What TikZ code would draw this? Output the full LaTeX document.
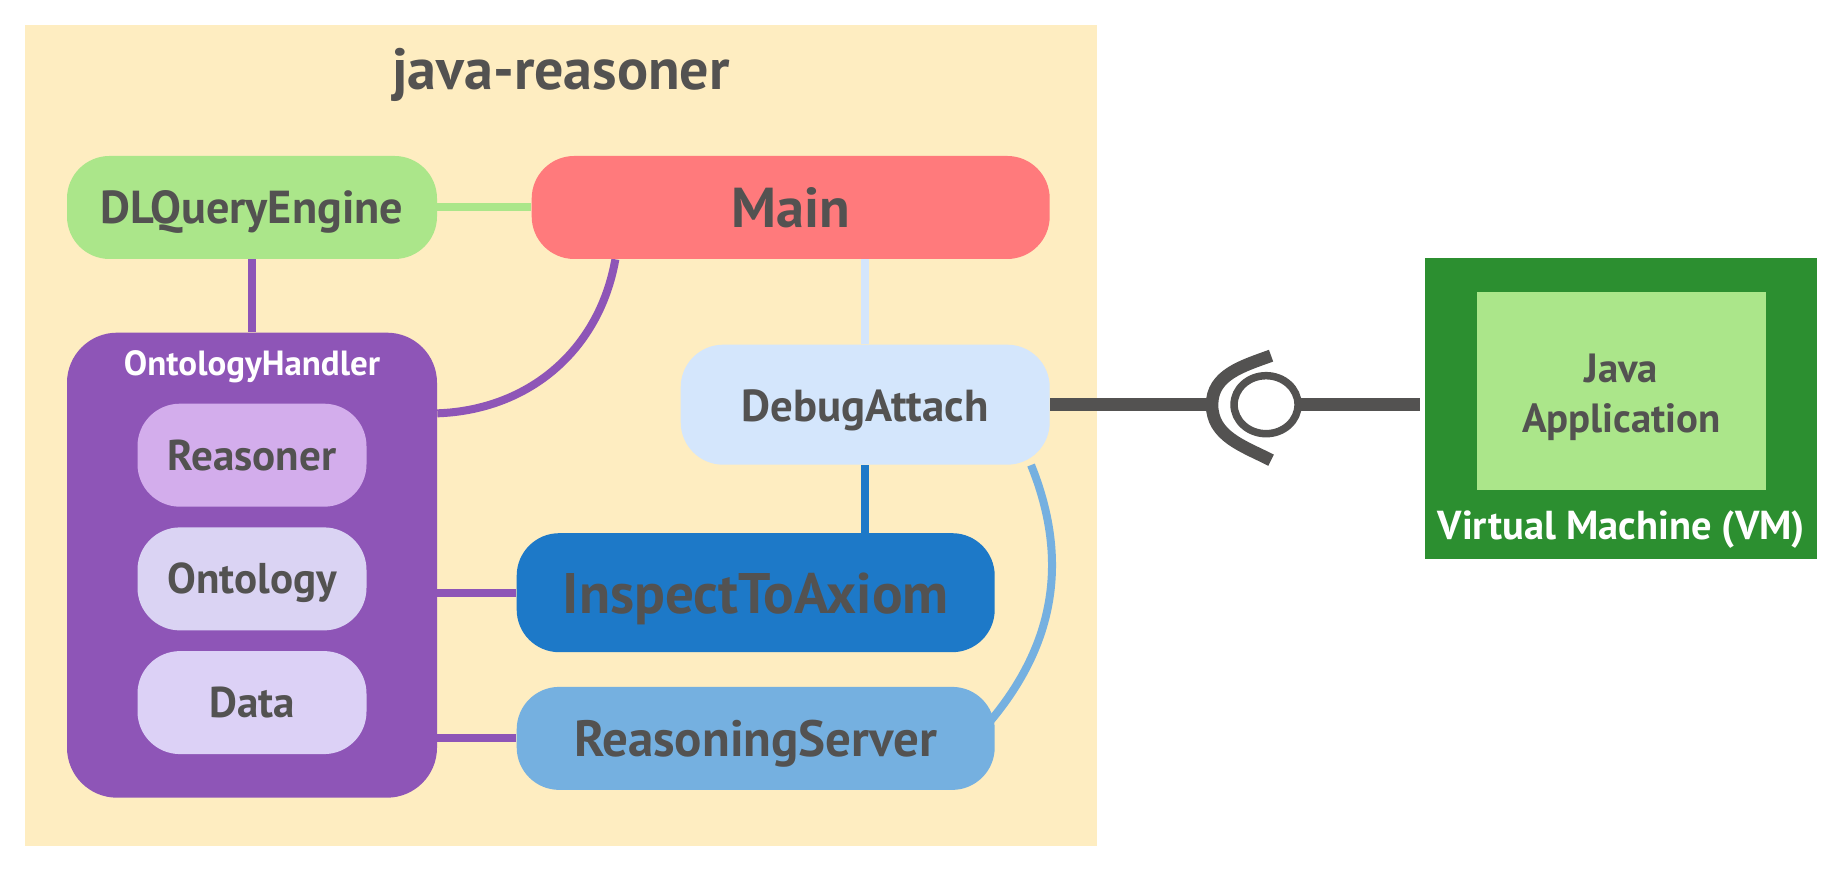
\documentclass[tikz,border=0pt]{standalone}
\usepackage{fontspec}
\setmainfont{PT Sans}
\usetikzlibrary{positioning, backgrounds, shapes.geometric}
\definecolor{inkgrey}{HTML}{535251}
\definecolor{creambg}{HTML}{FEEDC1}
\definecolor{leafgreen}{HTML}{ABE68A}
\definecolor{forestgreen}{HTML}{2C8F30}
\definecolor{mainred}{HTML}{FF7A7C}
\definecolor{handlerpurple}{HTML}{8E55B7}
\definecolor{reasonerlilac}{HTML}{D3ADEC}
\definecolor{ontologylilac}{HTML}{DAD3F3}
\definecolor{datalilac}{HTML}{DCD1F6}
\definecolor{debugblue}{HTML}{D4E6FC}
\definecolor{inspectblue}{HTML}{1D79C8}
\definecolor{serverblue}{HTML}{75B0E0}
\newcommand{\sized}[1]{\fontsize{#1}{#1}\selectfont\bfseries}

\begin{document}
\begin{tikzpicture}[
			block/.style={rectangle, rounded corners=0.85cm, inner sep=0pt, text=inkgrey, text depth=0pt},
			smallblock/.style={block, minimum width=4.58cm, minimum height=2.06cm, font=\sized{24.5pt}, text height=0.6cm},
			link/.style={line width=0.16cm},
			eyeline/.style={line width=0.25cm, inkgrey}]

			\useasboundingbox (0,0) rectangle (36.74,17.42);

			\begin{scope}[on background layer]
				\node[fill=creambg, inner sep=0pt, minimum width=21.44cm, minimum height=16.42cm] (reasoner) at (11.22,8.71) {};
			\end{scope}
			\node[text=inkgrey, inner sep=0pt, font=\sized{33pt}, below=0.47cm of reasoner.north] (title) {java-reasoner};

			\node[block, fill=leafgreen, minimum width=7.4cm, minimum height=2.06cm, font=\sized{26.3pt}, text height=0.65cm, below right=2.62cm and 0.84cm of reasoner.north west] (DLQ) {DLQueryEngine};
			\node[block, fill=mainred, minimum width=10.36cm, minimum height=2.06cm, font=\sized{32pt}, text height=0.79cm, right=1.88cm of DLQ] (Main) {Main};

			\node[block, rounded corners=1cm, fill=handlerpurple, minimum width=7.4cm, minimum height=9.3cm, below=1.46cm of DLQ] (Handler) {};
			\node[text=white, inner sep=0pt, font=\sized{19.9pt}, below=0.36cm of Handler.north] (HandlerTitle) {OntologyHandler};
			\node[smallblock, fill=reasonerlilac, below=1.42cm of Handler.north] (Reasoner) {Reasoner};
			\node[smallblock, fill=ontologylilac, below=0.4cm of Reasoner] (Ontology) {Ontology};
			\node[smallblock, fill=datalilac, below=0.4cm of Ontology] (Data) {Data};

			\node[block, fill=debugblue, minimum width=7.38cm, minimum height=2.4cm, font=\sized{25.5pt}, text height=0.67cm, below=1.7cm of Main.south east, anchor=north east] (Debug) {DebugAttach};
			\node[block, fill=inspectblue, minimum width=9.56cm, minimum height=2.38cm, font=\sized{32.5pt}, text height=0.83cm, right=1.58cm of Handler, yshift=-0.55cm] (Inspect) {InspectToAxiom};
			\node[block, fill=serverblue, minimum width=9.56cm, minimum height=2.06cm, font=\sized{29pt}, text height=0.72cm, below=0.68cm of Inspect] (Server) {ReasoningServer};

			\node[ellipse, draw=inkgrey, fill=white, line width=0.15cm, inner sep=0pt, outer sep=0pt, minimum width=1.28cm, minimum height=1.16cm, right=3.68cm of Debug] (eye) {};
			\coordinate (eyeapex) at ([xshift=-0.44cm]eye.west);
			\coordinate (eyetop) at ([xshift=0.1cm, yshift=0.4cm]eye.north);
			\coordinate (eyebot) at ([xshift=0.1cm, yshift=-0.53cm]eye.south);
			\draw[eyeline] (eyetop) to[out=200,in=90] (eyeapex) to[out=-90,in=153] (eyebot);

			\node[fill=forestgreen, inner sep=0pt, minimum width=7.84cm, minimum height=6.02cm, right=2.54cm of eye, yshift=-0.07cm] (VM) {};
			\node[fill=leafgreen, text=inkgrey, inner sep=0pt, align=center, minimum width=5.78cm, minimum height=3.96cm, font=\fontsize{23.2pt}{28.5pt}\selectfont\bfseries, text height=1.82cm, below=0.68cm of VM.north] (App) {Java\\Application};
			\node[text=white, inner sep=0pt, font=\sized{23pt}, above=0.2cm of VM.south] (VMTitle) {Virtual Machine (VM)};

			\begin{scope}[on background layer]
				\draw[link, leafgreen] (DLQ) -- (Main);
				\draw[link, handlerpurple] (DLQ) -- (Handler);
				\draw[link, handlerpurple] ([xshift=1.68cm]Main.south west) to[out=-100,in=2] ([yshift=-1.62cm]Handler.north east);
				\draw[link, debugblue] (Debug.north) -- (Debug.north |- Main.south);
				\draw[link, inspectblue] (Debug.south) -- (Debug.south |- Inspect.north);
				\draw[link, handlerpurple] (Inspect.west) -- (Inspect.west -| Handler.east);
				\draw[link, handlerpurple] (Server.west) -- (Server.west -| Handler.east);
				\draw[link, serverblue] ([xshift=-0.38cm]Debug.south east) to[out=-68,in=50] ([xshift=-0.1cm, yshift=0.34cm]Server.east);
				\draw[line width=0.26cm, inkgrey] (Debug.east) -- (eyeapex);
				\draw[line width=0.26cm, inkgrey, shorten >=0.1cm] (eye.east) -- (eye.east -| VM.west);
			\end{scope}
		\end{tikzpicture}
\end{document}
